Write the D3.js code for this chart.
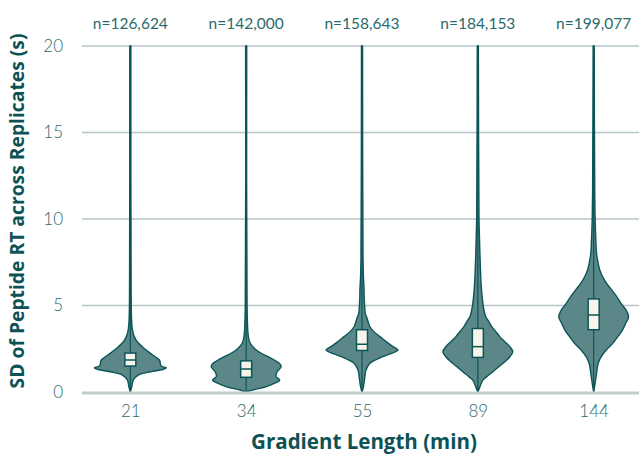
<!DOCTYPE html>
<html>
<head>
<meta charset="utf-8">
<script src="https://cdn.jsdelivr.net/npm/d3@7"></script>
<style>
  html, body { margin: 0; padding: 0; background: #ffffff; }
  svg { display: block; }
  text { font-family: Lato, "Open Sans", sans-serif; }
  .title { font-family: "Open Sans", Lato, sans-serif; }
</style>
</head>
<body>
<svg id="chart" width="639" height="457"></svg>
<script>
// Gradient lengths (min) and peptide counts
const categories = ["21", "34", "55", "89", "144"];
const counts = ["n=126,624", "n=142,000", "n=158,643", "n=184,153", "n=199,077"];

// Box statistics of SD (s)
const q1 = [1.5, 0.85, 2.4, 2.0, 3.6];
const medians = [1.85, 1.33, 2.76, 2.62, 4.45];
const q3 = [2.25, 1.8, 3.6, 3.67, 5.38];
const minVals = [0, 0, 0, 0, 0];
const maxVals = [20, 20, 20, 20, 20];

// Kernel density profiles: [SD value, relative density]
const density21 = [[0,0],[0.3,0.04],[0.69,0.08],[0.98,0.22],[1.17,0.56],[1.3,0.9],[1.4,1.0],[1.5,0.86],[1.66,0.83],[1.8,0.82],[1.95,0.75],[2.23,0.56],[2.62,0.33],[2.91,0.19],[3.2,0.11],[3.58,0.06],[4.16,0.035],[6,0.022],[20,0.015]];
const density34 = [[0,0],[0.12,0.19],[0.31,0.56],[0.5,0.78],[0.69,0.93],[0.89,0.83],[1.17,0.86],[1.46,0.97],[1.66,0.92],[1.85,0.78],[2.04,0.61],[2.24,0.42],[2.43,0.28],[2.72,0.14],[3.0,0.08],[3.4,0.05],[5,0.025],[20,0.015]];
const density55 = [[0,0],[0.31,0.04],[0.89,0.08],[1.27,0.11],[1.66,0.22],[1.95,0.47],[2.2,0.78],[2.43,1.0],[2.62,0.86],[2.91,0.67],[3.2,0.5],[3.49,0.33],[3.77,0.22],[4.06,0.17],[4.26,0.14],[4.55,0.09],[4.93,0.075],[5.5,0.06],[5.9,0.058],[6.66,0.04],[7.8,0.028],[20,0.015]];
const density89 = [[0,0],[0.31,0.06],[0.69,0.14],[0.89,0.25],[1.17,0.42],[1.46,0.58],[1.75,0.75],[2.04,0.89],[2.33,0.97],[2.62,0.89],[2.91,0.75],[3.2,0.61],[3.49,0.5],[3.77,0.39],[4.06,0.31],[4.35,0.22],[4.74,0.17],[5.12,0.14],[5.7,0.11],[6.28,0.09],[7.24,0.07],[8.2,0.055],[9.2,0.042],[10.1,0.032],[20,0.015]];
const density144 = [[0,0],[0.5,0.04],[1.08,0.08],[1.66,0.125],[2.04,0.21],[2.43,0.35],[2.81,0.53],[3.2,0.67],[3.58,0.8],[3.97,0.89],[4.35,0.97],[4.74,0.9],[5.12,0.76],[5.51,0.64],[5.9,0.5],[6.28,0.36],[6.66,0.25],[7.05,0.17],[7.43,0.125],[8.0,0.08],[8.8,0.06],[9.9,0.042],[11.5,0.03],[20,0.015]];
const densities = [density21, density34, density55, density89, density144];

const yTicks = [0, 5, 10, 15, 20];

const svg = d3.select("#chart");
const plot = { left: 82, right: 639, top: 46, bottom: 392 };

const COLORS = {
  dark: "#0b5557",
  fill: "#5b8788",
  box: "#f8f4ec",
  grid: "#b9c6c8",
  base: "#c2cccd",
  tick: "#2b6a6b",
  title: "#0d5254"
};

const x = d3.scalePoint()
  .domain(categories)
  .range([plot.left + 2, plot.right + 1])
  .padding(0.4);

const y = d3.scaleLinear()
  .domain([0, 20])
  .range([plot.bottom, plot.top]);

const halfWidth = d3.scaleLinear().domain([0, 1]).range([0, 36]);

// Horizontal gridlines
svg.append("g")
  .selectAll("line")
  .data(yTicks.filter(t => t !== 0))
  .join("line")
  .attr("x1", plot.left).attr("x2", plot.right)
  .attr("y1", d => y(d)).attr("y2", d => y(d))
  .attr("stroke", COLORS.grid)
  .attr("stroke-width", 1.3);

// Y axis tick labels
const yAxis = d3.axisLeft(y).tickValues(yTicks).tickSize(0).tickPadding(0);
svg.append("g")
  .attr("transform", `translate(${plot.left - 19},0)`)
  .call(yAxis)
  .call(g => g.select(".domain").remove())
  .call(g => g.selectAll("text")
    .attr("fill", COLORS.tick)
    .attr("font-size", 17)
    .attr("font-weight", 300));

// Violins
const area = d3.area()
  .curve(d3.curveCatmullRom.alpha(0.5))
  .y(d => y(d[0]));

const groups = svg.append("g")
  .selectAll("g")
  .data(categories.map((c, i) => ({ c, i })))
  .join("g")
  .attr("transform", d => `translate(${x(d.c)},0)`);

groups.append("path")
  .attr("d", d => area
    .x0(p => -halfWidth(p[1]))
    .x1(p => halfWidth(p[1]))(densities[d.i]))
  .attr("fill", COLORS.fill)
  .attr("stroke", COLORS.dark)
  .attr("stroke-width", 1.4)
  .attr("stroke-linejoin", "round");

// Whiskers through each violin
groups.append("line")
  .attr("x1", 0).attr("x2", 0)
  .attr("y1", d => y(minVals[d.i]))
  .attr("y2", d => y(maxVals[d.i]))
  .attr("stroke", COLORS.dark)
  .attr("stroke-width", 1.2);

// Interquartile boxes
const boxHalf = 5.5;
groups.append("rect")
  .attr("x", -boxHalf)
  .attr("width", boxHalf * 2)
  .attr("y", d => y(q3[d.i]))
  .attr("height", d => y(q1[d.i]) - y(q3[d.i]))
  .attr("fill", COLORS.box)
  .attr("stroke", COLORS.dark)
  .attr("stroke-width", 1.5);

groups.append("line")
  .attr("x1", -boxHalf).attr("x2", boxHalf)
  .attr("y1", d => y(medians[d.i]))
  .attr("y2", d => y(medians[d.i]))
  .attr("stroke", COLORS.dark)
  .attr("stroke-width", 1.5);

// Baseline at zero
svg.append("line")
  .attr("x1", plot.left).attr("x2", plot.right)
  .attr("y1", y(0) + 1).attr("y2", y(0) + 1)
  .attr("stroke", COLORS.base)
  .attr("stroke-width", 3);

// X axis tick labels
const xAxis = d3.axisBottom(x).tickSize(0).tickPadding(0);
svg.append("g")
  .attr("transform", `translate(0,${plot.bottom + 12})`)
  .call(xAxis)
  .call(g => g.select(".domain").remove())
  .call(g => g.selectAll("text")
    .attr("fill", COLORS.tick)
    .attr("font-size", 17)
    .attr("font-weight", 300)
    .attr("dy", "0.75em"));

// Sample counts above each violin
svg.append("g")
  .selectAll("text")
  .data(categories.map((c, i) => ({ c, i })))
  .join("text")
  .attr("x", d => x(d.c))
  .attr("y", 29)
  .attr("text-anchor", "middle")
  .attr("fill", COLORS.tick)
  .attr("font-size", 15.5)
  .attr("font-weight", 400)
  .text(d => counts[d.i]);

// Axis titles
svg.append("text")
  .attr("class", "title")
  .attr("x", 364)
  .attr("y", 449)
  .attr("text-anchor", "middle")
  .attr("fill", COLORS.title)
  .attr("font-size", 20.5)
  .attr("font-weight", 700)
  .text("Gradient Length (min)");

svg.append("text")
  .attr("class", "title")
  .attr("transform", "translate(24,211) rotate(-90)")
  .attr("text-anchor", "middle")
  .attr("fill", COLORS.title)
  .attr("font-size", 19.3)
  .attr("font-weight", 700)
  .text("SD of Peptide RT across Replicates (s)");
</script>
</body>
</html>
